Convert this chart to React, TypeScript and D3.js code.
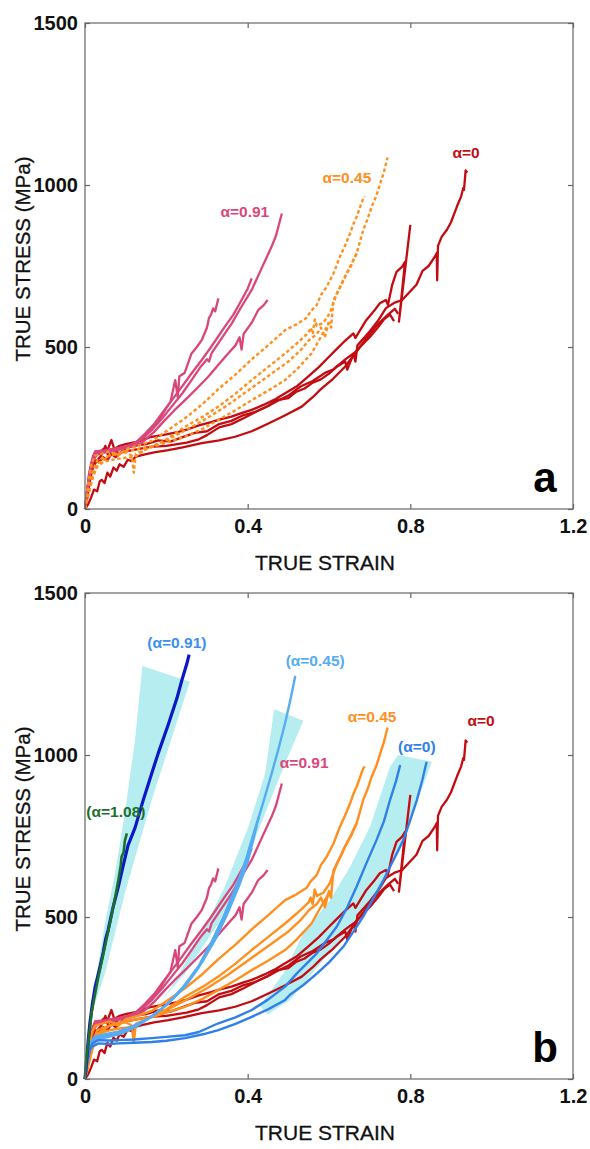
import * as d3 from "d3";
import { useEffect, useRef } from "react";

type Pt = [number, number];

// axis ticks
const strainTicks = [0, 0.4, 0.8, 1.2];
const stressTicks = [0, 500, 1000, 1500];

// experiments, alpha = 0
const red1: Pt[] = [[0,0],[0.005,30],[0.01,70],[0.015,110],[0.02,140],[0.025,150],[0.035,145],[0.045,160],[0.055,150],[0.065,170],[0.075,160],[0.09,175],[0.11,180],[0.13,185],[0.16,192],[0.2,195],[0.25,205],[0.28,215],[0.3,228],[0.33,252],[0.36,262],[0.39,280],[0.42,300],[0.45,318],[0.48,338],[0.5,350],[0.53,378],[0.56,395],[0.59,420],[0.61,430],[0.64,462],[0.66,480],[0.665,455],[0.67,505],[0.7,548],[0.72,580],[0.74,620],[0.76,636],[0.78,645],[0.8,672],[0.815,692],[0.83,735],[0.845,750],[0.86,778],[0.865,790],[0.866,706],[0.868,812],[0.877,840],[0.89,862],[0.9,885],[0.915,935],[0.925,965],[0.93,990],[0.932,985],[0.936,1045],[0.94,1038]];
const red2: Pt[] = [[0,0],[0.005,50],[0.01,100],[0.018,150],[0.025,177],[0.035,172],[0.045,185],[0.055,180],[0.065,213],[0.072,185],[0.085,195],[0.1,200],[0.13,208],[0.16,222],[0.2,230],[0.23,238],[0.25,245],[0.28,258],[0.31,268],[0.33,276],[0.36,285],[0.39,298],[0.41,306],[0.44,322],[0.47,340],[0.49,356],[0.52,378],[0.55,410],[0.575,438],[0.6,470],[0.62,495],[0.64,520],[0.66,542],[0.665,528],[0.69,580],[0.71,610],[0.725,635],[0.74,645],[0.745,630],[0.755,690],[0.766,732],[0.78,748],[0.787,763],[0.772,578],[0.8,877]];
const red3: Pt[] = [[0,0],[0.008,15],[0.015,35],[0.022,60],[0.03,55],[0.036,85],[0.041,90],[0.048,80],[0.055,112],[0.062,100],[0.07,128],[0.078,118],[0.085,138],[0.095,130],[0.105,152],[0.115,148],[0.125,162],[0.145,168],[0.17,175],[0.205,182],[0.24,190],[0.287,203],[0.33,212],[0.369,223],[0.41,240],[0.451,264],[0.49,288],[0.533,316],[0.56,345],[0.58,370],[0.61,402],[0.64,440],[0.67,490],[0.7,540],[0.72,570],[0.745,600],[0.762,618],[0.77,602]];
const red4: Pt[] = [[0,0],[0.006,40],[0.012,90],[0.02,130],[0.03,150],[0.04,165],[0.05,195],[0.058,160],[0.07,180],[0.085,172],[0.1,188],[0.12,195],[0.15,200],[0.18,212],[0.21,208],[0.24,222],[0.27,235],[0.3,240],[0.33,262],[0.36,272],[0.39,290],[0.42,300],[0.45,318],[0.47,335],[0.5,342],[0.52,362],[0.54,372],[0.56,390],[0.58,400],[0.6,418],[0.62,440],[0.64,455],[0.645,430],[0.66,478],[0.68,505],[0.7,530],[0.72,560],[0.735,585],[0.75,600],[0.76,580]];

// experiments, alpha = 0.91
const pink1: Pt[] = [[0,0],[0.008,80],[0.015,140],[0.025,178],[0.04,180],[0.06,175],[0.08,185],[0.1,190],[0.123,203],[0.14,220],[0.164,244],[0.19,280],[0.213,316],[0.24,358],[0.262,398],[0.285,440],[0.3,462],[0.305,455],[0.311,480],[0.335,525],[0.361,573],[0.385,625],[0.41,676],[0.435,745],[0.459,810],[0.47,845],[0.484,912]];
const pink2: Pt[] = [[0,0],[0.01,100],[0.02,160],[0.03,172],[0.05,178],[0.07,185],[0.1,192],[0.125,205],[0.148,233],[0.17,262],[0.189,295],[0.21,330],[0.238,377],[0.26,415],[0.287,460],[0.31,500],[0.344,563],[0.365,600],[0.385,645],[0.4,680],[0.41,712]];
const pink3: Pt[] = [[0,0],[0.01,90],[0.02,150],[0.03,168],[0.05,175],[0.08,182],[0.11,192],[0.14,205],[0.17,238],[0.197,275],[0.22,305],[0.246,336],[0.275,372],[0.303,408],[0.33,448],[0.352,480],[0.37,505],[0.38,530],[0.385,492],[0.39,540],[0.41,575],[0.426,614],[0.44,630],[0.449,645]];
const pink4: Pt[] = [[0,0],[0.01,110],[0.02,165],[0.03,175],[0.05,182],[0.08,188],[0.11,195],[0.14,215],[0.164,244],[0.18,270],[0.197,306],[0.21,330],[0.222,398],[0.228,345],[0.232,410],[0.245,420],[0.262,480],[0.275,500],[0.287,521],[0.3,560],[0.305,590],[0.31,600],[0.315,619],[0.32,610],[0.328,650]];

// experiments, alpha = 0.45
const orange1: Pt[] = [[0,0],[0.01,60],[0.02,110],[0.03,140],[0.045,150],[0.06,165],[0.08,172],[0.1,178],[0.13,185],[0.164,192],[0.2,215],[0.246,254],[0.29,285],[0.328,316],[0.37,356],[0.41,398],[0.45,438],[0.492,480],[0.52,510],[0.55,545],[0.555,560],[0.56,540],[0.565,585],[0.57,565],[0.586,575],[0.602,604],[0.619,665],[0.63,690],[0.643,727],[0.655,755],[0.668,789],[0.684,861],[0.695,895],[0.705,933],[0.716,965],[0.726,1005],[0.735,1040],[0.744,1085]];
const orange2: Pt[] = [[0,0],[0.008,80],[0.016,140],[0.025,165],[0.04,170],[0.06,178],[0.082,165],[0.1,185],[0.13,195],[0.164,210],[0.2,240],[0.246,280],[0.29,325],[0.328,370],[0.37,415],[0.41,462],[0.45,505],[0.492,552],[0.52,570],[0.545,590],[0.555,610],[0.57,630],[0.58,660],[0.594,685],[0.611,727],[0.627,779],[0.64,815],[0.652,851],[0.66,880],[0.668,902],[0.676,930],[0.684,958],[0.688,965]];
const orange3: Pt[] = [[0,0],[0.01,50],[0.02,100],[0.03,130],[0.045,145],[0.06,150],[0.08,155],[0.1,158],[0.123,161],[0.15,185],[0.2,205],[0.246,223],[0.29,248],[0.328,275],[0.37,305],[0.41,336],[0.45,365],[0.492,398],[0.52,430],[0.557,480],[0.575,520],[0.59,552],[0.6,575],[0.605,560],[0.611,645],[0.62,665],[0.635,707],[0.645,730],[0.655,752],[0.66,769],[0.668,789]];
const orange4: Pt[] = [[0,0],[0.01,70],[0.02,120],[0.03,150],[0.05,160],[0.07,168],[0.1,175],[0.115,165],[0.12,112],[0.125,170],[0.16,190],[0.2,212],[0.25,245],[0.3,280],[0.35,320],[0.4,365],[0.45,410],[0.5,455],[0.53,490],[0.55,520],[0.57,540],[0.58,560],[0.59,530],[0.6,580],[0.606,574]];

// model, alpha = 0.45
const lightBlue1: Pt[] = [[0,0],[0.005,60],[0.012,110],[0.025,131],[0.05,138],[0.082,146],[0.12,165],[0.164,192],[0.2,228],[0.246,285],[0.28,345],[0.312,419],[0.34,485],[0.361,552],[0.385,630],[0.41,738],[0.435,840],[0.459,943],[0.476,1020],[0.492,1098],[0.505,1170],[0.517,1244]];
const lightBlue2: Pt[] = [[0,0],[0.006,70],[0.014,115],[0.025,125],[0.05,132],[0.08,140],[0.12,160],[0.16,190],[0.2,228],[0.24,282],[0.28,350],[0.31,420],[0.34,500],[0.37,590],[0.4,690],[0.428,810]];
const lightBlue3: Pt[] = [[0,0],[0.008,80],[0.02,120],[0.05,128],[0.09,140],[0.13,165],[0.17,198],[0.21,240],[0.25,295],[0.29,365],[0.32,430],[0.35,510],[0.38,600],[0.4,670],[0.422,780]];

// model, alpha = 0
const midBlue1: Pt[] = [[0,0],[0.005,50],[0.012,95],[0.02,112],[0.033,120],[0.06,119],[0.082,120],[0.12,122],[0.164,126],[0.2,130],[0.246,135],[0.28,145],[0.328,172],[0.37,190],[0.41,213],[0.45,245],[0.492,285],[0.521,326],[0.545,356],[0.57,388],[0.595,430],[0.619,470],[0.645,530],[0.668,594],[0.69,660],[0.717,738],[0.735,795],[0.75,861],[0.765,920],[0.775,969]];
const midBlue2: Pt[] = [[0,0],[0.005,45],[0.012,90],[0.018,100],[0.033,110],[0.06,108],[0.082,110],[0.12,112],[0.164,114],[0.2,118],[0.246,126],[0.29,138],[0.328,151],[0.37,170],[0.41,192],[0.45,215],[0.492,244],[0.504,260],[0.537,290],[0.57,325],[0.6,360],[0.635,408],[0.66,455],[0.684,501],[0.71,560],[0.734,614],[0.76,680],[0.783,738],[0.8,800],[0.816,861],[0.83,925],[0.84,979]];

// model, alpha = 0.91 and 1.08
const darkBlue: Pt[] = [[0,0],[0.004,59],[0.008,120],[0.012,172],[0.018,230],[0.025,285],[0.031,315],[0.037,347],[0.045,392],[0.051,433],[0.057,460],[0.069,530],[0.082,594],[0.095,665],[0.106,722],[0.123,775],[0.143,860],[0.164,943],[0.18,1005],[0.205,1095],[0.226,1175],[0.238,1230],[0.25,1280],[0.256,1310]];
const green: Pt[] = [[0,0],[0.004,69],[0.009,120],[0.016,203],[0.023,250],[0.033,316],[0.041,362],[0.049,408],[0.057,455],[0.066,511],[0.074,560],[0.082,614],[0.088,660],[0.09,686],[0.095,700],[0.098,735],[0.103,758]];

// scatter bands of the model
const band091: Pt[] = [[0.141,1275],[0.123,1046],[0.098,820],[0.074,635],[0.049,480],[0.029,326],[0.025,234],[0.049,326],[0.098,573],[0.164,861],[0.238,1149],[0.258,1226]];
const band045: Pt[] = [[0.465,1141],[0.443,943],[0.402,779],[0.344,594],[0.287,450],[0.213,285],[0.189,244],[0.246,326],[0.328,480],[0.385,635],[0.443,820],[0.492,974],[0.537,1106]];
const band0: Pt[] = [[0.77,1000],[0.75,964],[0.701,779],[0.652,655],[0.602,552],[0.537,450],[0.49,330],[0.43,225],[0.45,200],[0.504,244],[0.586,367],[0.668,491],[0.725,594],[0.775,707],[0.816,851],[0.853,979]];

const RED = "#c20c12";
const PINK = "#d9477a";
const ORANGE = "#ff8f1f";
const LIGHT_BLUE = "#55acf2";
const MID_BLUE = "#2f80e8";
const DARK_BLUE = "#0b18c9";
const GREEN = "#1d6e2c";
const BAND = "#b5edf0";
const FONT = "'Liberation Sans', Arial, sans-serif";

const marginLeft = 85;
const plotW = 488;
const plotH = 486;

export default function App() {
    const svgRef = useRef<SVGSVGElement>(null);

    useEffect(() => {
        document.body.style.margin = "0";
        const svg = d3.select(svgRef.current);
        svg.selectAll("*").remove();
        drawPanel(svg, 23, "a");
        drawPanel(svg, 593, "b");
    }, []);

    const drawPanel = (svg: any, top: number, panel: "a" | "b") => {
        const x = d3.scaleLinear().domain([0, 1.2]).range([0, plotW]);
        const y = d3.scaleLinear().domain([0, 1500]).range([plotH, 0]);
        const g = svg.append("g").attr("transform", `translate(${marginLeft},${top})`);
        const line = d3.line<Pt>().x((d) => x(d[0])).y((d) => y(d[1]));

        // bands
        if (panel === "b") {
            [band091, band045, band0].forEach((b) => {
                g.append("path").attr("d", line(b) + "Z").attr("fill", BAND).attr("stroke", "none");
            });
        }

        const curve = (data: Pt[], color: string, width: number, dash?: string) => {
            g.append("path")
                .datum(data)
                .attr("fill", "none")
                .attr("stroke", color)
                .attr("stroke-width", width)
                .attr("stroke-dasharray", dash || null)
                .attr("stroke-linejoin", "round")
                .attr("d", line);
        };

        [red1, red2, red3, red4].forEach((d) => curve(d, RED, 2.3));
        [pink1, pink2, pink3, pink4].forEach((d) => curve(d, PINK, 2.3));
        [orange1, orange2, orange3, orange4].forEach((d) =>
            curve(d, ORANGE, 2.4, panel === "a" ? "3.5,2.5" : undefined)
        );
        if (panel === "b") {
            [lightBlue1, lightBlue2, lightBlue3].forEach((d) => curve(d, LIGHT_BLUE, 2.4));
            [midBlue1, midBlue2].forEach((d) => curve(d, MID_BLUE, 2.4));
            curve(darkBlue, DARK_BLUE, 3.2);
            curve(green, GREEN, 2.6);
        }

        // frame
        g.append("rect")
            .attr("width", plotW)
            .attr("height", plotH)
            .attr("fill", "none")
            .attr("stroke", "#666")
            .attr("stroke-width", 1.2);

        // axes, ticks pointing in
        const styleAxis = (a: any) => {
            a.select(".domain").remove();
            a.selectAll(".tick line").attr("stroke", "#666").attr("stroke-width", 1.2);
            a.selectAll("text")
                .attr("font-family", FONT)
                .attr("font-size", 20)
                .attr("font-weight", "bold")
                .attr("fill", "#111");
        };
        g.append("g")
            .attr("transform", `translate(0,${plotH})`)
            .call(d3.axisBottom(x).tickValues(strainTicks).tickSize(-5).tickPadding(10).tickFormat((d: any) => `${d}`))
            .call(styleAxis);
        g.append("g")
            .call(d3.axisLeft(y).tickValues(stressTicks).tickSize(-5).tickPadding(7).tickFormat((d: any) => `${d}`))
            .call(styleAxis);
        g.append("g")
            .call(d3.axisTop(x).tickValues(strainTicks).tickSize(-5).tickFormat(() => ""))
            .call(styleAxis);
        g.append("g")
            .attr("transform", `translate(${plotW},0)`)
            .call(d3.axisRight(y).tickValues(stressTicks).tickSize(-5).tickFormat(() => ""))
            .call(styleAxis);

        // axis titles
        g.append("text")
            .attr("x", plotW / 2 - 4)
            .attr("y", plotH + 54)
            .attr("dy", "0.35em")
            .attr("text-anchor", "middle")
            .attr("font-family", FONT)
            .attr("font-size", 21)
            .attr("fill", "#111")
            .attr("stroke", "#111")
            .attr("stroke-width", 0.3)
            .text("TRUE STRAIN");
        g.append("text")
            .attr("transform", `translate(${23 - marginLeft},${236}) rotate(-90)`)
            .attr("dy", "0.35em")
            .attr("text-anchor", "middle")
            .attr("font-family", FONT)
            .attr("font-size", 20.5)
            .attr("fill", "#111")
            .attr("stroke", "#111")
            .attr("stroke-width", 0.3)
            .text("TRUE STRESS (MPa)");

        // curve labels
        const labels: [string, number, number, string][] =
            panel === "a"
                ? [
                      ["α=0.91", 0.393, 917, PINK],
                      ["α=0.45", 0.644, 1022, ORANGE],
                      ["α=0", 0.937, 1099, RED],
                  ]
                : [
                      ["(α=0.91)", 0.226, 1346, "#3c8ff0"],
                      ["(α=0.45)", 0.566, 1290, LIGHT_BLUE],
                      ["α=0.45", 0.706, 1120, ORANGE],
                      ["α=0", 0.974, 1105, RED],
                      ["(α=0)", 0.816, 1025, MID_BLUE],
                      ["α=0.91", 0.539, 978, PINK],
                      ["(α=1.08)", 0.076, 824, GREEN],
                  ];
        labels.forEach(([t, sx, sy, c]) => {
            g.append("text")
                .attr("x", x(sx))
                .attr("y", y(sy))
                .attr("dy", "0.35em")
                .attr("text-anchor", "middle")
                .attr("font-family", FONT)
                .attr("font-size", 15.5)
                .attr("font-weight", "bold")
                .attr("fill", c)
                .text(t);
        });

        // panel letter
        g.append("text")
            .attr("x", plotW - 28)
            .attr("y", plotH - 17)
            .attr("text-anchor", "middle")
            .attr("font-family", FONT)
            .attr("font-size", 42)
            .attr("font-weight", "bold")
            .attr("fill", "#000")
            .text(panel);
    };

    return <svg ref={svgRef} width={590} height={1149} style={{ display: "block" }} />;
}
